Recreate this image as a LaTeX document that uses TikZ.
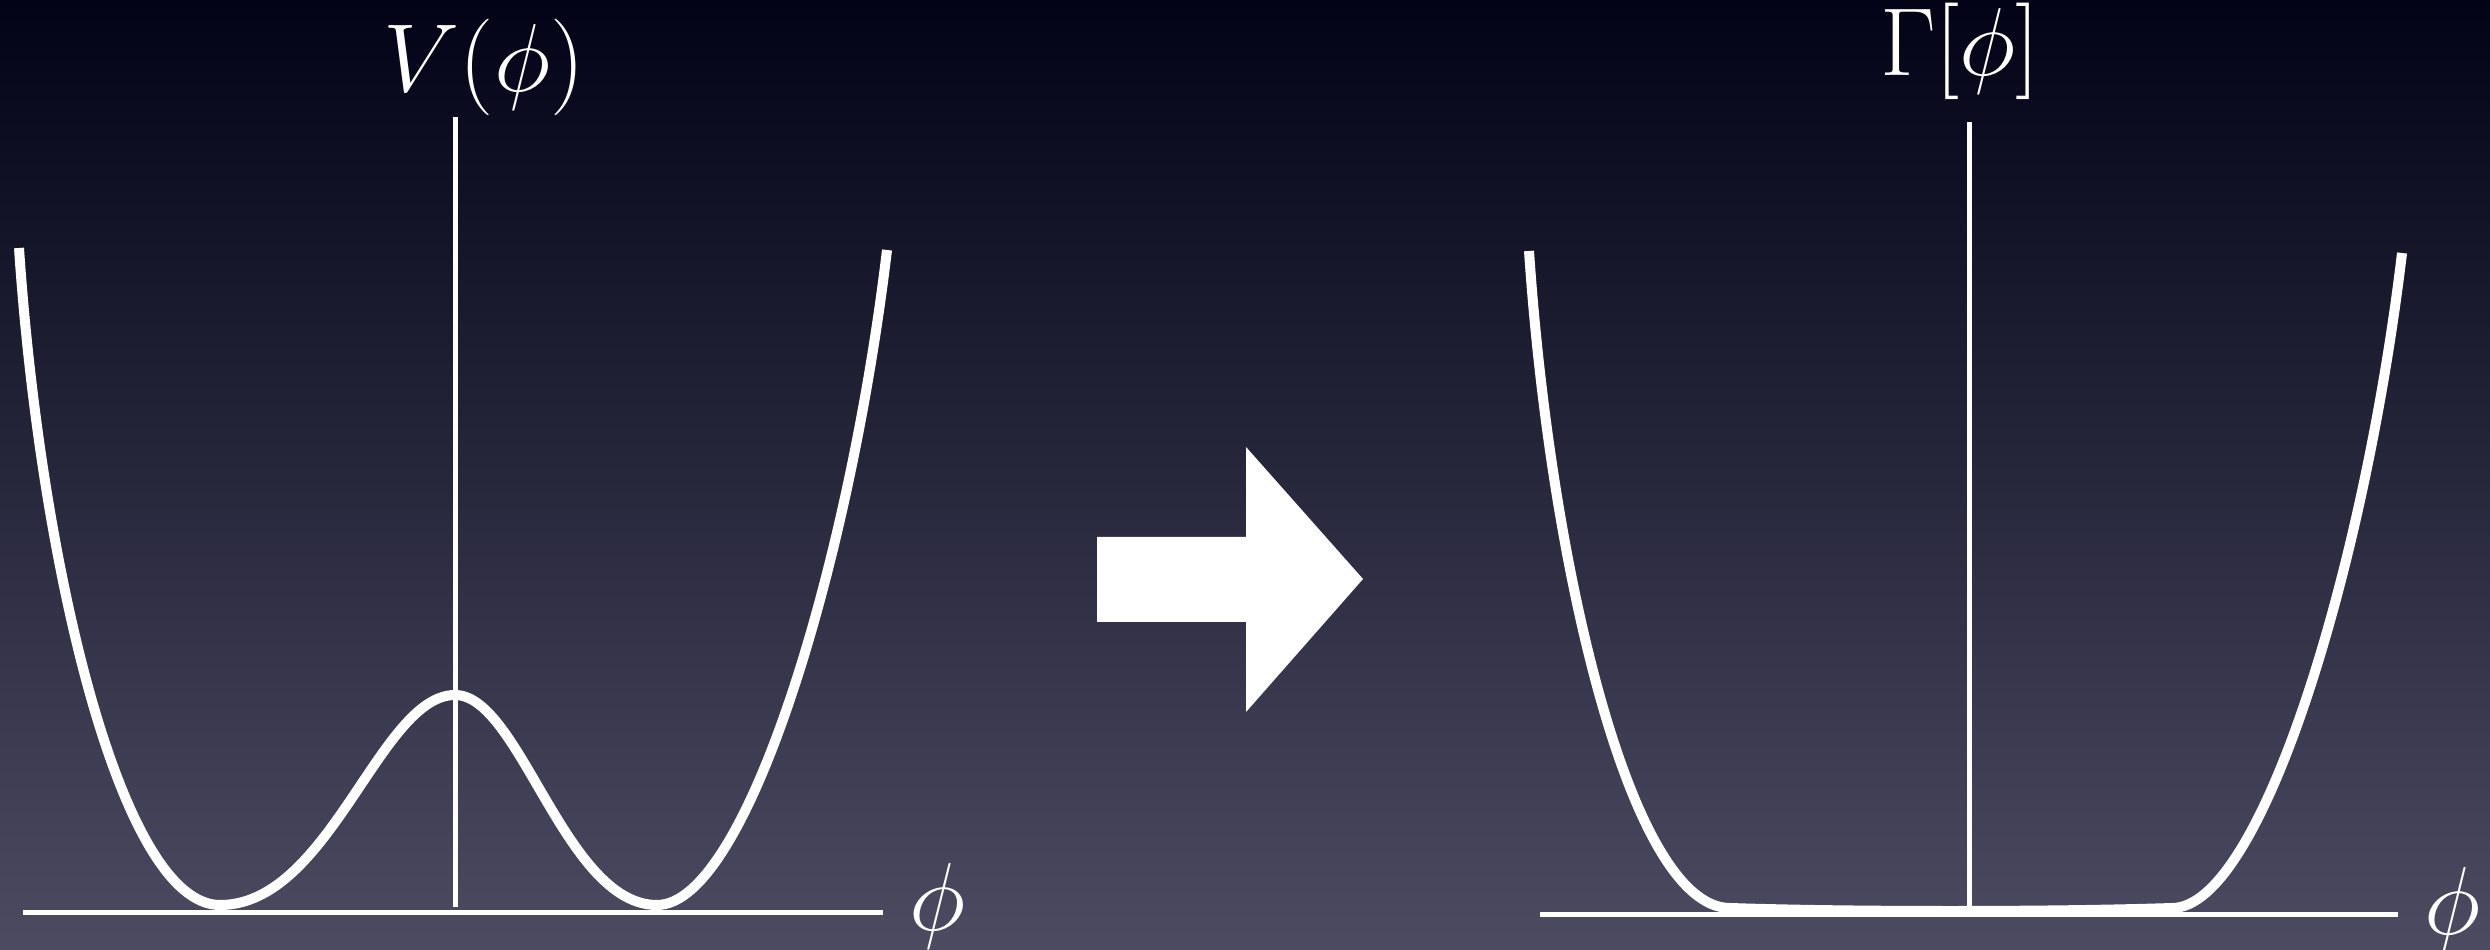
\documentclass[tikz,border=0pt]{standalone}
\usepackage{fix-cm}
\usepackage{xcolor}
\definecolor{bgtop}{RGB}{2,3,22}
\definecolor{bgmid}{RGB}{33,34,58}
\definecolor{bgbot}{RGB}{76,75,98}
\tikzset{
  axisline/.style={white, line width=0.5mm},
  potcurve/.style={white, line width=1mm, line join=round},
  biglabel/.style={white, inner sep=0pt, anchor=base, font=\fontsize{27.5}{33}\selectfont},
}

\begin{document}
\begin{tikzpicture}[x=0.1mm, y=-0.1mm]
  % background
  \shade[top color=bgtop, middle color=bgmid, bottom color=bgbot] (0,0) rectangle (2490,950);
  \useasboundingbox (0,0) rectangle (2490,950);

  % left panel: double well
  \coordinate (vxa) at (23,912);
  \coordinate (vxb) at (883,912);
  \coordinate (vya) at (455,907);
  \coordinate (vyb) at (455,117);
  \draw[axisline] (vxa) -- (vxb);
  \draw[axisline] (vya) -- (vyb);
  \node[biglabel] (vlab) at (484,92) {$V(\phi)$};
  \node[biglabel] (vphi) at (937,930) {$\phi$};
  \draw[potcurve] (19,248) .. controls (40,560) and (120,905) .. (220,905)
    .. controls (330,905) and (380,695) .. (455,695)
    .. controls (520,695) and (565,905) .. (657,905)
    .. controls (747,905) and (850,560) .. (887,250);

  % arrow
  \fill[white] (1097,537) -- (1246,537) -- (1246,447) -- (1363,579)
    -- (1246,712) -- (1246,622) -- (1097,622) -- cycle;

  % right panel: flat bottom
  \coordinate (gxa) at (1540,914);
  \coordinate (gxb) at (2398,914);
  \coordinate (gya) at (1969,908);
  \coordinate (gyb) at (1969,122);
  \draw[axisline] (gxa) -- (gxb);
  \draw[axisline] (gya) -- (gyb);
  \node[biglabel] (glab) at (1960,76) {$\Gamma[\phi]$};
  \node[biglabel] (gphi) at (2452,934) {$\phi$};
  \draw[potcurve] (1529,251) .. controls (1550,563) and (1630,908) .. (1730,908)
    .. controls (1850,912) and (2050,912) .. (2172,908)
    .. controls (2262,908) and (2365,563) .. (2402,253);
\end{tikzpicture}
\end{document}
